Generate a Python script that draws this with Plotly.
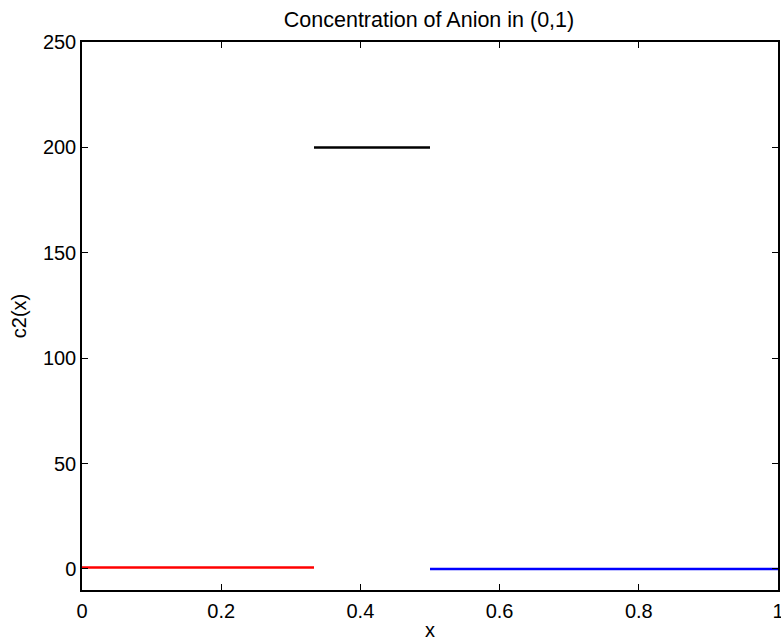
import plotly.graph_objects as go

# piecewise data
x_red = [0.0, 1/3]
y_red = [0.7, 0.7]
x_black = [1/3, 0.4, 0.5]
y_black = [200, 200, 200]
x_blue = [0.5, 0.7, 1.0]
y_blue = [0.0, 0.0, 0.0]

x_ticks = [0, 0.2, 0.4, 0.6, 0.8, 1]
x_tick_labels = ["0", "0.2", "0.4", "0.6", "0.8", "1"]
y_ticks = [0, 50, 100, 150, 200, 250]

fig = go.Figure()
fig.add_trace(go.Scatter(x=x_red, y=y_red, mode="lines", line=dict(color="#ff0000", width=2.5), showlegend=False))
fig.add_trace(go.Scatter(x=x_black, y=y_black, mode="lines", line=dict(color="#000000", width=2.5), showlegend=False))
fig.add_trace(go.Scatter(x=x_blue, y=y_blue, mode="lines", line=dict(color="#0000ff", width=2.5), showlegend=False))

font = "Liberation Sans, Arial, Helvetica, sans-serif"
fig.update_layout(
    width=781, height=641,
    margin=dict(l=82, r=3, t=42, b=51, autoexpand=False),
    paper_bgcolor="white", plot_bgcolor="white",
    font=dict(family=font, size=20, color="black"),
    title=dict(text="Concentration of Anion in (0,1)", x=429/781, xanchor="center",
               y=1 - 19/641, yanchor="middle", font=dict(size=21.5, family=font)),
)
fig.update_xaxes(range=[0, 1], tickvals=x_ticks, ticktext=x_tick_labels,
                 ticks="inside", ticklen=6, tickwidth=1.2, tickcolor="black",
                 showline=True, linecolor="black", linewidth=1.5, mirror="ticks",
                 showgrid=False, zeroline=False, ticklabeloverflow="allow",
                 ticklabelstandoff=2,
                 title=dict(text="x", standoff=4, font=dict(size=20)), automargin=False)
fig.update_yaxes(range=[-10, 250], tickvals=y_ticks,
                 ticks="inside", ticklen=6, tickwidth=1.2, tickcolor="black",
                 showline=True, linecolor="black", linewidth=1.5, mirror="ticks",
                 showgrid=False, zeroline=False, ticklabeloverflow="allow",
                 title=dict(text="c2(x)", standoff=11, font=dict(size=20)), automargin=False)

fig.write_html("out.html")
